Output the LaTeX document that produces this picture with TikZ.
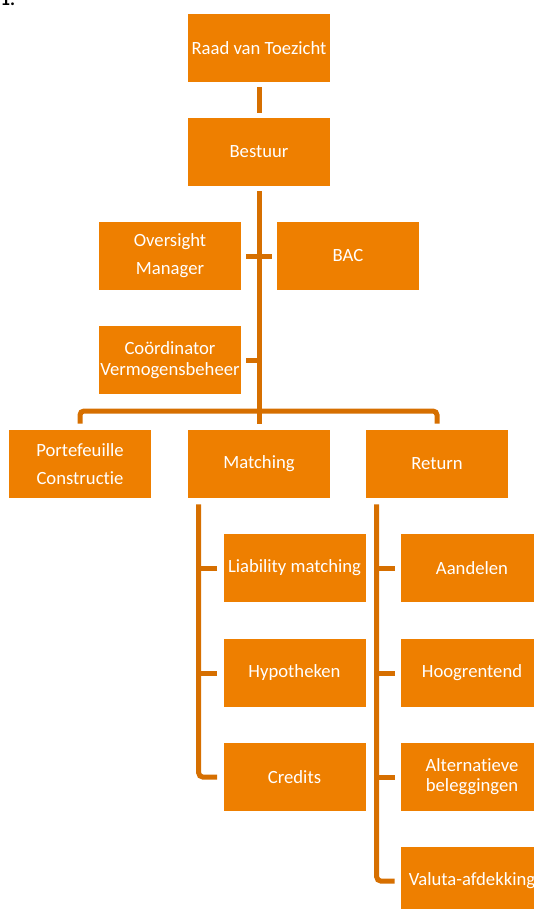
\documentclass[tikz,border=0pt]{standalone}
\usepackage{fontspec}
\setmainfont{Carlito}[Ligatures=CommonOff]
\definecolor{orgbox}{RGB}{238,127,0}
\definecolor{orgline}{RGB}{214,111,0}
\begin{document}
\begin{tikzpicture}[x=0.75pt,y=-0.75pt]
	
		\tikzset{
		  unit/.style={
			fill=orgbox,
			text=white,
			inner sep=0pt,
			minimum width=106.5pt,
			minimum height=51pt,
			align=center,
			font=\fontsize{14}{16}\selectfont,
		  },
		  link/.style={
			draw=orgline,
			line width=3.75pt,
		  },
		}
		\useasboundingbox (0,0) rectangle (534,909);
		\clip (0,0) rectangle (534,909);
		\node[anchor=base west,font=\fontsize{14}{16}\selectfont\bfseries] (num) at (-4,6) {1.};
		% bovenste lagen
		\node[unit] (raad) at (259,48) {Raad van Toezicht};
		\node[unit] (bestuur) at (259,152) {Bestuur};
		\node[unit] (oversight) at (170,256) {Oversight\\[5pt]Manager};
		\node[unit] (bac) at (348,256) {BAC};
		\node[unit] (coord) at (170,360) {Coördinator\\Vermogensbeheer};
		\node[unit] (portef) at (80,464) {Portefeuille\\[5pt]Constructie};
		\node[unit] (matching) at (259,464) {Matching};
		\node[unit] (return) at (437,464) {Return};
		% matching
		\node[unit] (liab) at (294.5,568) {Liability matching};
		\node[unit] (hypo) at (294.5,673) {Hypotheken};
		\node[unit] (credits) at (294.5,777) {Credits};
		% return
		\node[unit] (aandelen) at (472,568) {Aandelen};
		\node[unit] (hoog) at (472,673) {Hoogrentend};
		\node[unit] (altern) at (472,777) {Alternatieve\\[-1pt]beleggingen};
		\node[unit] (valuta) at (472,881) {Valuta-afdekking};
		
		\draw[link,shorten <=3.75pt,shorten >=3.75pt] (raad) -- (bestuur);
		\draw[link,shorten <=3.75pt,shorten >=4.5pt] (bestuur) -- (matching);
		\draw[link,shorten <=3.75pt,shorten >=3.75pt] (oversight) -- (bac);
		\draw[link,shorten <=3.75pt] (coord.east) -- (coord.east -| bestuur.south);
		\coordinate (bus) at (259,411);
		\draw[link,rounded corners=3pt,shorten <=4.5pt,shorten >=4.5pt] (portef.north) |- (bus) -| (return.north);
		
		\coordinate (mtop) at ([xshift=8.25pt,yshift=-4.5pt]matching.south west);
		\draw[link,rounded corners=3pt,shorten >=4.5pt] (mtop) |- (credits.west);
		\draw[link,shorten <=4.5pt] (liab.west) -- (liab.west -| mtop);
		\draw[link,shorten <=4.5pt] (hypo.west) -- (hypo.west -| mtop);
		
		\coordinate (rtop) at ([xshift=8.25pt,yshift=-4.5pt]return.south west);
		\draw[link,rounded corners=3pt,shorten >=4.5pt] (rtop) |- (valuta.west);
		\draw[link,shorten <=4.5pt] (aandelen.west) -- (aandelen.west -| rtop);
		\draw[link,shorten <=4.5pt] (hoog.west) -- (hoog.west -| rtop);
		\draw[link,shorten <=4.5pt] (altern.west) -- (altern.west -| rtop);
	
	\end{tikzpicture}
\end{document}
